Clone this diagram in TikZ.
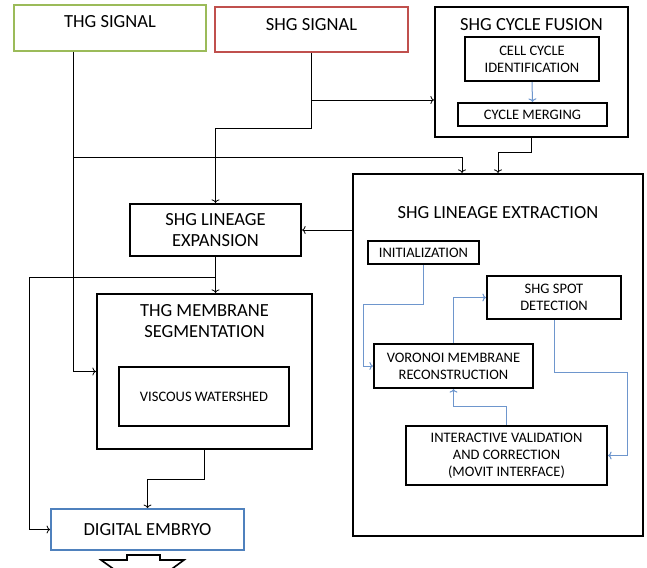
\documentclass[tikz,border=0pt]{standalone}
\usepackage{fontspec}
\setmainfont{Carlito}
\usetikzlibrary{arrows, arrows.meta, calc}

\definecolor{thggreen}{RGB}{155,187,89}
\definecolor{shgred}{RGB}{192,80,77}
\definecolor{embryoblue}{RGB}{79,129,189}
\definecolor{stepblue}{RGB}{110,150,205}

\begin{document}
\begin{tikzpicture}[x=1pt, y=-1pt,
		box/.style={draw, line width=2.2pt, fill=white, inner sep=0pt},
		signal/.style={draw, line width=1.8pt, fill=white, inner sep=0pt},
		title/.style={font=\fontsize{18.5}{21.5}\selectfont, align=center},
		small/.style={font=\fontsize{14.5}{17}\selectfont, align=center},
		link/.style={line width=0.8pt},
		flow/.style={stepblue, line width=1pt},
		>={To[length=3.5pt, width=8pt]}]

	\useasboundingbox (0,0) rectangle (647,567);
	\clip (0,0) rectangle (647,567);

	% input signals
	\node[signal, draw=thggreen, minimum width=192, minimum height=46] (thg) at (110,28) {};
	\node[title] (thgT) at (110,22) {THG SIGNAL};
	\node[signal, draw=shgred, minimum width=193, minimum height=45] (shg) at (311.5,29.5) {};
	\node[title] (shgT) at (311.5,25) {SHG SIGNAL};

	% cycle fusion
	\node[box, minimum width=193, minimum height=130] (fusion) at (531.5,72) {};
	\node[title] (fusionT) at (531.5,25) {SHG CYCLE FUSION};
	\node[box, small, minimum width=134, minimum height=44] (cellid) at (532,59) {CELL CYCLE\\IDENTIFICATION};
	\node[box, small, minimum width=149, minimum height=23] (merging) at (532.5,114.5) {CYCLE MERGING};

	% lineage expansion and membranes
	\node[box, title, minimum width=171, minimum height=52] (expansion) at (215.5,230) {SHG LINEAGE\\EXPANSION};
	\node[box, minimum width=215, minimum height=155] (membrane) at (204.5,371.5) {};
	\node[title] (membraneT) at (204.5,321) {THG MEMBRANE\\SEGMENTATION};
	\node[box, small, minimum width=170, minimum height=59] (watershed) at (204,396.5) {VISCOUS WATERSHED};
	\node[signal, draw=embryoblue, title, minimum width=193, minimum height=41] (embryo) at (147.5,529.5) {DIGITAL EMBRYO};

	% lineage extraction
	\node[box, minimum width=290, minimum height=362] (extraction) at (498,355) {};
	\node[title] (extractionT) at (498,213) {SHG LINEAGE EXTRACTION};
	\node[box, small, minimum width=111, minimum height=23] (init) at (423.5,252.5) {INITIALIZATION};
	\node[box, small, minimum width=134, minimum height=43] (spot) at (554,297.5) {SHG SPOT\\DETECTION};
	\node[box, small, minimum width=159, minimum height=44] (voronoi) at (453.5,366) {VORONOI MEMBRANE\\RECONSTRUCTION};
	\node[box, small, minimum width=201, minimum height=59] (interactive) at (506.5,455.5) {INTERACTIVE VALIDATION\\AND CORRECTION\\(MOVIT INTERFACE)};

	\coordinate (bypass) at (29,277);
	\coordinate (loopL) at (363,304);
	\coordinate (loopR) at (627,372);

	% black connectors
	\draw[link,->] ([xshift=-37pt]thg.south) |- (membrane.west);
	\draw[link,->] ([xshift=-37pt]thg.south |- 0,157) -| ([xshift=-36pt]extraction.north);
	\draw[link,->] (shg.south) |- ([yshift=-28pt]fusion.west);
	\draw[link,->] (shg.south) -- (shg.south |- 0,128) -| (expansion.north);
	\draw[link,->] (fusion.south) -- (fusion.south |- 0,152) -| (extraction.north);
	\draw[link,->] (extraction.west |- expansion.east) -- (expansion.east);
	\draw[link,->] (expansion.south) -- (expansion.south |- membrane.north);
	\draw[link,->] (expansion.south |- bypass) -- (bypass) |- (embryo.west);
	\draw[link,->] (membrane.south) -- (membrane.south |- 0,479) -| (embryo.north);

	% blue steps
	\draw[flow,->] (cellid.south) -- (merging.north);
	\draw[flow,->] (init.south) |- (loopL) |- (voronoi.west);
	\draw[flow,->] (voronoi.north) |- (spot.west);
	\draw[flow,->] (spot.south) |- (loopR) |- (interactive.east);
	\draw[flow,->] (interactive.north) -- ++(0,-18) -| (voronoi.south);

	% output arrow
	\draw[line width=1.6pt, fill=white] (127,555) -- (160,555) -- (160,560) -- (184,560)
		-- (143,590) -- (101,560) -- (127,560) -- cycle;
\end{tikzpicture}
\end{document}
